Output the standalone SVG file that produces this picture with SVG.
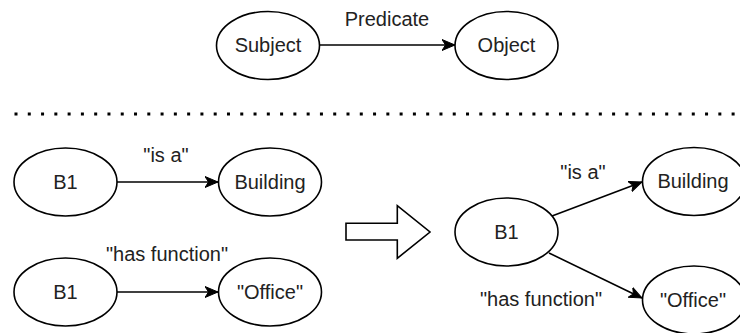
<svg xmlns="http://www.w3.org/2000/svg" width="740" height="333" viewBox="0 0 740 333">
  <style>
    .node ellipse { fill: #ffffff; stroke: #000000; stroke-width: 1.6; }
    .node text, .label { font-family: "Liberation Sans", Arial, Helvetica, sans-serif; font-size: 20px; fill: #222222; text-anchor: middle; }
    .edge { fill: none; stroke: #000000; stroke-width: 1.6; marker-end: url(#arrow); }
  </style>
  <defs>
    <marker id="arrow" markerUnits="userSpaceOnUse" markerWidth="14" markerHeight="12" viewBox="0 0 14 12" refX="13" refY="6" orient="auto">
      <path d="M0,0.5 L13,6 L0,11.5 L3.5,6 Z" fill="#000000" stroke="#000000" stroke-width="1"/>
    </marker>
  </defs>
  <rect width="740" height="333" fill="#ffffff"/>

  <g id="connectors">
    <path class="edge" d="M319.5,45 L455,45"/>
    <path class="edge" d="M117,182 L218,182"/>
    <path class="edge" d="M117,292 L218,292"/>
    <path class="edge" d="M552,216 L642,182"/>
    <path class="edge" d="M549,253 L642,298"/>
  </g>

  <g id="edge-labels">
    <text class="label" x="387" y="26">Predicate</text>
    <text class="label" x="166" y="162">"is a"</text>
    <text class="label" x="167" y="261">"has function"</text>
    <text class="label" x="583" y="179">"is a"</text>
    <text class="label" x="541" y="306">"has function"</text>
  </g>

  <g id="separator">
    <line x1="14.5" y1="114" x2="737" y2="114" stroke="#000000" stroke-width="3" stroke-dasharray="3 10.28"/>
  </g>

  <g id="transform-arrow">
    <path d="M346,223.3 L397.3,223.3 L397.3,205.7 L430,232 L397.3,258.3 L397.3,240 L346,240 Z" fill="#ffffff" stroke="#000000" stroke-width="1.6" stroke-linejoin="miter"/>
  </g>

  <g id="node-subject" class="node">
    <ellipse cx="268" cy="45.5" rx="51.5" ry="34"/>
    <text x="268" y="52">Subject</text>
  </g>
  <g id="node-object" class="node">
    <ellipse cx="506.5" cy="45.5" rx="51.5" ry="34"/>
    <text x="506.5" y="52">Object</text>
  </g>

  <g id="node-b1-a" class="node">
    <ellipse cx="65.5" cy="182" rx="51.5" ry="34"/>
    <text x="65.5" y="188.5">B1</text>
  </g>
  <g id="node-building-a" class="node">
    <ellipse cx="270" cy="182" rx="51.5" ry="34"/>
    <text x="270" y="188.5">Building</text>
  </g>
  <g id="node-b1-b" class="node">
    <ellipse cx="65.5" cy="292" rx="51.5" ry="34"/>
    <text x="65.5" y="298.5">B1</text>
  </g>
  <g id="node-office-a" class="node">
    <ellipse cx="270" cy="292" rx="51.5" ry="34"/>
    <text x="270" y="298.5">"Office"</text>
  </g>

  <g id="node-b1-c" class="node">
    <ellipse cx="506.5" cy="232" rx="51.5" ry="34"/>
    <text x="506.5" y="238.5">B1</text>
  </g>
  <g id="node-building-b" class="node">
    <ellipse cx="694" cy="181.5" rx="51.5" ry="34"/>
    <text x="693" y="188">Building</text>
  </g>
  <g id="node-office-b" class="node">
    <ellipse cx="694" cy="300" rx="51.5" ry="34"/>
    <text x="693" y="306.5">"Office"</text>
  </g>
</svg>
